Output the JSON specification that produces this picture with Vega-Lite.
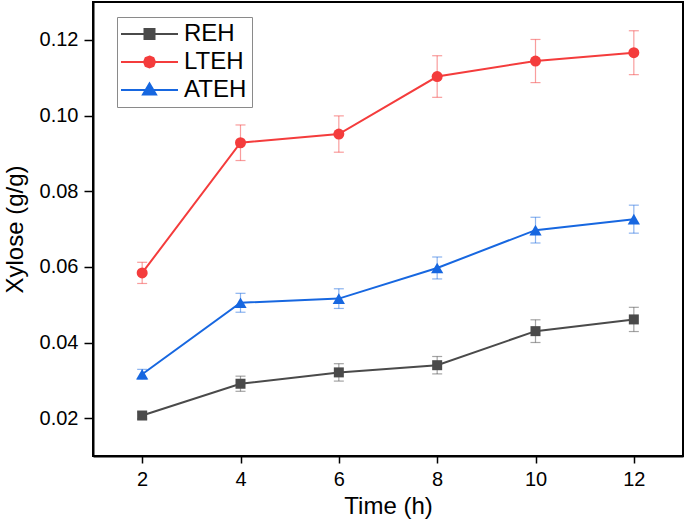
{
  "$schema": "https://vega.github.io/schema/vega-lite/v6.json",
  "width": 590,
  "height": 454,
  "autosize": "none",
  "padding": {"left": 93, "top": 2, "right": 2, "bottom": 65},
  "background": "white",
  "config": {
    "font": "Liberation Sans",
    "view": {"stroke": "black", "strokeWidth": 2},
    "axis": {
      "domainColor": "black", "domainWidth": 2, "tickColor": "black", "tickWidth": 1.5,
      "labelColor": "black", "titleColor": "black", "labelFontSize": 20, "titleFontSize": 24,
      "titleFontWeight": "normal", "grid": false, "labelFont": "Liberation Sans", "titleFont": "Liberation Sans"
    },
    "legend": {
      "orient": "none", "legendX": 24, "legendY": 15, "padding": 5,
      "strokeColor": "#8a8a8a", "fillColor": "white",
      "labelFontSize": 24, "labelColor": "black", "labelFont": "Liberation Sans",
      "symbolSize": 400, "symbolStrokeWidth": 2,
      "labelOffset": 38, "rowPadding": 4
    }
  },
  "data": {"values": [
    {"time": 2, "series": "REH", "xylose": 0.0207, "lo": 0.0198, "hi": 0.0216},
    {"time": 4, "series": "REH", "xylose": 0.0291, "lo": 0.0271, "hi": 0.0311},
    {"time": 6, "series": "REH", "xylose": 0.0321, "lo": 0.0298, "hi": 0.0344},
    {"time": 8, "series": "REH", "xylose": 0.0340, "lo": 0.0317, "hi": 0.0363},
    {"time": 10, "series": "REH", "xylose": 0.0430, "lo": 0.0400, "hi": 0.0460},
    {"time": 12, "series": "REH", "xylose": 0.0461, "lo": 0.0429, "hi": 0.0493},
    {"time": 2, "series": "LTEH", "xylose": 0.0584, "lo": 0.0556, "hi": 0.0612},
    {"time": 4, "series": "LTEH", "xylose": 0.0928, "lo": 0.0881, "hi": 0.0975},
    {"time": 6, "series": "LTEH", "xylose": 0.0951, "lo": 0.0903, "hi": 0.0999},
    {"time": 8, "series": "LTEH", "xylose": 0.1103, "lo": 0.1048, "hi": 0.1158},
    {"time": 10, "series": "LTEH", "xylose": 0.1144, "lo": 0.1087, "hi": 0.1201},
    {"time": 12, "series": "LTEH", "xylose": 0.1166, "lo": 0.1108, "hi": 0.1224},
    {"time": 2, "series": "ATEH", "xylose": 0.0316, "lo": 0.0303, "hi": 0.0329},
    {"time": 4, "series": "ATEH", "xylose": 0.0505, "lo": 0.0480, "hi": 0.0530},
    {"time": 6, "series": "ATEH", "xylose": 0.0516, "lo": 0.0490, "hi": 0.0542},
    {"time": 8, "series": "ATEH", "xylose": 0.0597, "lo": 0.0568, "hi": 0.0626},
    {"time": 10, "series": "ATEH", "xylose": 0.0697, "lo": 0.0663, "hi": 0.0731},
    {"time": 12, "series": "ATEH", "xylose": 0.0726, "lo": 0.0689, "hi": 0.0763}
  ]},
  "encoding": {
    "x": {
      "field": "time", "type": "quantitative",
      "scale": {"domain": [1, 13], "nice": false, "zero": false},
      "axis": {
        "title": "Time (h)",
        "values": [2, 4, 6, 8, 10, 12],
        "tickSize": 7,
        "labelPadding": 6,
        "titlePadding": 5,
        "labelFlush": false
      }
    },
    "color": {
      "field": "series", "type": "nominal", "title": null,
      "scale": {"domain": ["REH", "LTEH", "ATEH"], "range": ["#4a4a4a", "#f43c3c", "#1767e0"]}
    }
  },
  "layer": [
    {
      "mark": {"type": "rule", "strokeOpacity": 0.5, "strokeWidth": 1.2},
      "encoding": {
        "y": {"field": "lo", "type": "quantitative"},
        "y2": {"field": "hi"}
      }
    },
    {
      "mark": {"type": "tick", "orient": "horizontal", "size": 10, "thickness": 1.2, "fillOpacity": 0.5},
      "encoding": {"y": {"field": "lo", "type": "quantitative"}}
    },
    {
      "mark": {"type": "tick", "orient": "horizontal", "size": 10, "thickness": 1.2, "fillOpacity": 0.5},
      "encoding": {"y": {"field": "hi", "type": "quantitative"}}
    },
    {
      "mark": {"type": "line", "strokeWidth": 2},
      "encoding": {
        "y": {
          "field": "xylose", "type": "quantitative",
          "scale": {"domain": [0.01, 0.13], "nice": false, "zero": false},
          "axis": {
            "title": "Xylose (g/g)",
            "values": [0.02, 0.04, 0.06, 0.08, 0.1, 0.12],
            "format": ".2f",
            "tickSize": 9,
            "labelPadding": 6,
            "titlePadding": 12,
            "labelFlush": false
          }
        }
      }
    },
    {
      "transform": [{"filter": "datum.series == 'REH'"}],
      "mark": {"type": "point", "shape": "square", "filled": true, "size": 100, "opacity": 1},
      "encoding": {"y": {"field": "xylose", "type": "quantitative"}}
    },
    {
      "transform": [{"filter": "datum.series == 'LTEH'"}],
      "mark": {"type": "point", "shape": "circle", "filled": true, "size": 121, "opacity": 1},
      "encoding": {"y": {"field": "xylose", "type": "quantitative"}}
    },
    {
      "transform": [{"filter": "datum.series == 'ATEH'"}],
      "mark": {"type": "point", "shape": "triangle-up", "filled": true, "size": 150, "opacity": 1},
      "encoding": {"y": {"field": "xylose", "type": "quantitative"}}
    },
    {
      "mark": {"type": "point", "filled": true, "strokeWidth": 2, "size": 0},
      "encoding": {
        "y": {"field": "xylose", "type": "quantitative"},
        "stroke": {
          "field": "series", "type": "nominal", "title": null,
          "scale": {"domain": ["REH", "LTEH", "ATEH"], "range": ["#4a4a4a", "#f43c3c", "#1767e0"]}
        },
        "shape": {
          "field": "series", "type": "nominal", "title": null,
          "scale": {
            "domain": ["REH", "LTEH", "ATEH"],
            "range": [
              "M-1.3,0H4.4M1.05,-0.5H2.05V0.5H1.05Z",
              "M-1.3,0H4.4M1.55,-0.55L1.94,-0.39L2.1,0L1.94,0.39L1.55,0.55L1.16,0.39L1,0L1.16,-0.39Z",
              "M-1.3,0H4.4M1.55,-0.65L2.2,0.45H0.9Z"
            ]
          }
        }
      }
    }
  ]
}
